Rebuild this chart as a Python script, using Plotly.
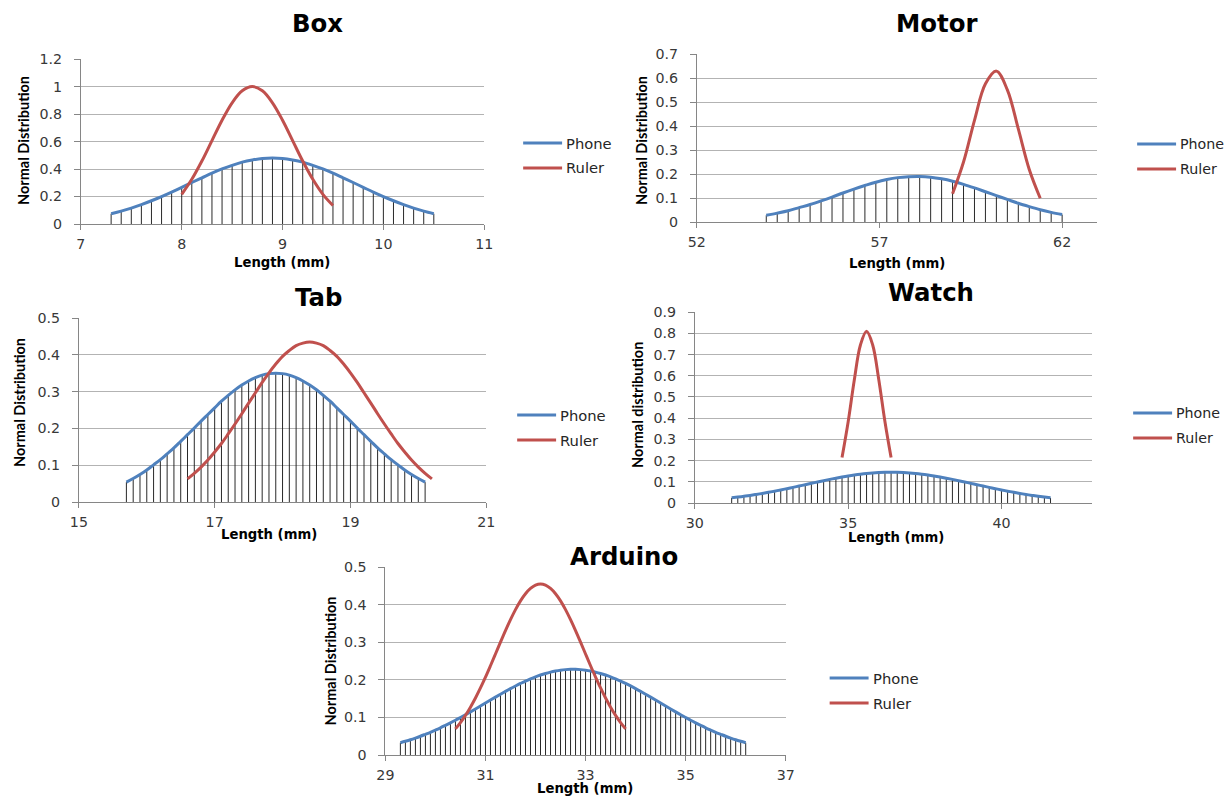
import plotly.graph_objects as go

# ---------------- data ----------------
BOX_PHONE_X = [7.3, 7.4, 7.5, 7.6, 7.7, 7.8, 7.9, 8.0, 8.1, 8.2, 8.3, 8.4, 8.5, 8.6, 8.7, 8.8, 8.9,
               9.0, 9.1, 9.2, 9.3, 9.4, 9.5, 9.6, 9.7, 9.8, 9.9, 10.0, 10.1, 10.2, 10.3, 10.4, 10.5]
BOX_PHONE_Y = [0.075, 0.094, 0.116, 0.141, 0.169, 0.199, 0.232, 0.267, 0.302, 0.336, 0.370, 0.401,
               0.427, 0.450, 0.466, 0.477, 0.480, 0.477, 0.466, 0.450, 0.427, 0.401, 0.370, 0.336,
               0.302, 0.267, 0.232, 0.199, 0.169, 0.141, 0.116, 0.094, 0.075]
BOX_RULER_X = [8.0, 8.1, 8.2, 8.3, 8.4, 8.5, 8.6, 8.7, 8.8, 8.9, 9.0, 9.1, 9.2, 9.3, 9.4, 9.5]
BOX_RULER_Y = [0.216, 0.325, 0.458, 0.607, 0.755, 0.882, 0.969, 1.0, 0.969, 0.882, 0.755, 0.607,
               0.458, 0.325, 0.216, 0.135]

MOTOR_PHONE_X = [53.9, 54.2, 54.5, 54.8, 55.1, 55.4, 55.7, 56.0, 56.3, 56.6, 56.9, 57.2, 57.5, 57.8,
                 58.1, 58.4, 58.7, 59.0, 59.3, 59.6, 59.9, 60.2, 60.5, 60.8, 61.1, 61.4, 61.7, 62.0]
MOTOR_PHONE_Y = [0.028, 0.037, 0.047, 0.060, 0.073, 0.088, 0.104, 0.121, 0.137, 0.152, 0.166, 0.177,
                 0.185, 0.189, 0.190, 0.187, 0.180, 0.170, 0.157, 0.142, 0.126, 0.110, 0.094, 0.078,
                 0.064, 0.051, 0.040, 0.031]
MOTOR_RULER_X = [59.0, 59.3, 59.6, 59.9, 60.2, 60.5, 60.8, 61.1, 61.4]
MOTOR_RULER_Y = [0.118, 0.250, 0.424, 0.576, 0.629, 0.551, 0.388, 0.219, 0.099]

TAB_PHONE_X = [15.7, 15.8, 15.9, 16.0, 16.1, 16.2, 16.3, 16.4, 16.5, 16.6, 16.7, 16.8, 16.9, 17.0,
               17.1, 17.2, 17.3, 17.4, 17.5, 17.6, 17.7, 17.8, 17.9, 18.0, 18.1, 18.2, 18.3, 18.4,
               18.5, 18.6, 18.7, 18.8, 18.9, 19.0, 19.1, 19.2, 19.3, 19.4, 19.5, 19.6, 19.7, 19.8,
               19.9, 20.0, 20.1]
TAB_PHONE_Y = [0.054, 0.064, 0.075, 0.087, 0.101, 0.115, 0.131, 0.147, 0.165, 0.183, 0.201, 0.220,
               0.238, 0.256, 0.274, 0.290, 0.305, 0.318, 0.329, 0.338, 0.345, 0.349, 0.350, 0.349,
               0.345, 0.338, 0.329, 0.318, 0.305, 0.290, 0.274, 0.256, 0.238, 0.220, 0.201, 0.183,
               0.165, 0.147, 0.131, 0.115, 0.101, 0.087, 0.075, 0.064, 0.054]
TAB_RULER_X = [16.6, 16.7, 16.8, 16.9, 17.0, 17.1, 17.2, 17.3, 17.4, 17.5, 17.6, 17.7, 17.8, 17.9,
               18.0, 18.1, 18.2, 18.3, 18.4, 18.5, 18.6, 18.7, 18.8, 18.9, 19.0, 19.1, 19.2, 19.3,
               19.4, 19.5, 19.6, 19.7, 19.8, 19.9, 20.0, 20.1, 20.2]
TAB_RULER_Y = [0.063, 0.078, 0.095, 0.114, 0.136, 0.159, 0.185, 0.212, 0.240, 0.269, 0.297, 0.325,
               0.351, 0.375, 0.396, 0.412, 0.425, 0.432, 0.435, 0.432, 0.425, 0.412, 0.396, 0.375,
               0.351, 0.325, 0.297, 0.269, 0.240, 0.212, 0.185, 0.159, 0.136, 0.114, 0.095, 0.078,
               0.063]

WATCH_PHONE_X = [31.2, 31.4, 31.6, 31.8, 32.0, 32.2, 32.4, 32.6, 32.8, 33.0, 33.2, 33.4, 33.6, 33.8,
                 34.0, 34.2, 34.4, 34.6, 34.8, 35.0, 35.2, 35.4, 35.6, 35.8, 36.0, 36.2, 36.4, 36.6,
                 36.8, 37.0, 37.2, 37.4, 37.6, 37.8, 38.0, 38.2, 38.4, 38.6, 38.8, 39.0, 39.2, 39.4,
                 39.6, 39.8, 40.0, 40.2, 40.4, 40.6, 40.8, 41.0, 41.2, 41.4, 41.6]
WATCH_PHONE_Y = [0.0243, 0.0278, 0.0316, 0.0358, 0.0403, 0.0452, 0.0503, 0.0558, 0.0616, 0.0675,
                 0.0737, 0.0800, 0.0864, 0.0927, 0.0991, 0.1053, 0.1113, 0.1170, 0.1224, 0.1274,
                 0.1318, 0.1357, 0.1390, 0.1416, 0.1435, 0.1446, 0.1450, 0.1446, 0.1435, 0.1416,
                 0.1390, 0.1357, 0.1318, 0.1274, 0.1224, 0.1170, 0.1113, 0.1053, 0.0991, 0.0927,
                 0.0864, 0.0800, 0.0737, 0.0675, 0.0616, 0.0558, 0.0503, 0.0452, 0.0403, 0.0358,
                 0.0316, 0.0278, 0.0243]
WATCH_RULER_X = [34.8, 35.0, 35.2, 35.4, 35.6, 35.8, 36.0, 36.2, 36.4]
WATCH_RULER_Y = [0.214, 0.383, 0.580, 0.745, 0.810, 0.745, 0.580, 0.383, 0.214]

ARDUINO_PHONE_X = [29.3, 29.4, 29.5, 29.6, 29.7, 29.8, 29.9, 30.0, 30.1, 30.2, 30.3, 30.4, 30.5, 30.6,
                   30.7, 30.8, 30.9, 31.0, 31.1, 31.2, 31.3, 31.4, 31.5, 31.6, 31.7, 31.8, 31.9, 32.0,
                   32.1, 32.2, 32.3, 32.4, 32.5, 32.6, 32.7, 32.8, 32.9, 33.0, 33.1, 33.2, 33.3, 33.4,
                   33.5, 33.6, 33.7, 33.8, 33.9, 34.0, 34.1, 34.2, 34.3, 34.4, 34.5, 34.6, 34.7, 34.8,
                   34.9, 35.0, 35.1, 35.2, 35.3, 35.4, 35.5, 35.6, 35.7, 35.8, 35.9, 36.0, 36.1, 36.2]
ARDUINO_PHONE_Y = [0.0327, 0.0365, 0.0406, 0.0451, 0.0499, 0.0551, 0.0605, 0.0663, 0.0724, 0.0789,
                   0.0856, 0.0925, 0.0998, 0.1072, 0.1148, 0.1225, 0.1304, 0.1383, 0.1462, 0.1540,
                   0.1617, 0.1693, 0.1767, 0.1837, 0.1904, 0.1968, 0.2026, 0.2080, 0.2128, 0.2170,
                   0.2206, 0.2235, 0.2257, 0.2272, 0.2279, 0.2279, 0.2272, 0.2257, 0.2235, 0.2206,
                   0.2170, 0.2128, 0.2080, 0.2026, 0.1968, 0.1904, 0.1837, 0.1767, 0.1693, 0.1617,
                   0.1540, 0.1462, 0.1383, 0.1304, 0.1225, 0.1148, 0.1072, 0.0998, 0.0925, 0.0856,
                   0.0789, 0.0724, 0.0663, 0.0605, 0.0551, 0.0499, 0.0451, 0.0406, 0.0365, 0.0327]
ARDUINO_RULER_X = [30.4, 30.5, 30.6, 30.7, 30.8, 30.9, 31.0, 31.1, 31.2, 31.3, 31.4, 31.5, 31.6, 31.7,
                   31.8, 31.9, 32.0, 32.1, 32.2, 32.3, 32.4, 32.5, 32.6, 32.7, 32.8, 32.9, 33.0, 33.1,
                   33.2, 33.3, 33.4, 33.5, 33.6, 33.7, 33.8]
ARDUINO_RULER_Y = [0.0695, 0.0862, 0.1054, 0.1273, 0.1517, 0.1784, 0.2072, 0.2375, 0.2687, 0.3002,
                   0.3309, 0.3600, 0.3868, 0.4101, 0.4291, 0.4433, 0.4521, 0.4550, 0.4521, 0.4433,
                   0.4291, 0.4101, 0.3868, 0.3600, 0.3309, 0.3002, 0.2687, 0.2375, 0.2072, 0.1784,
                   0.1517, 0.1273, 0.1054, 0.0862, 0.0695]

TITLES = ["Box", "Motor", "Tab", "Watch", "Arduino"]
Y_TITLES = ["Normal Distribution", "Normal Distribution", "Normal Distribution",
            "Normal distribution", "Normal Distribution"]
X_TITLE = "Length (mm)"
SERIES_NAMES = ["Phone", "Ruler"]

BOX_XTICKS = [7, 8, 9, 10, 11]
MOTOR_XTICKS = [52, 57, 62]
TAB_XTICKS = [15, 17, 19, 21]
WATCH_XTICKS = [30, 35, 40]
ARDUINO_XTICKS = [29, 31, 33, 35, 37]

BOX_YTICKS = [0, 0.2, 0.4, 0.6, 0.8, 1, 1.2]
MOTOR_YTICKS = [0, 0.1, 0.2, 0.3, 0.4, 0.5, 0.6, 0.7]
TAB_YTICKS = [0, 0.1, 0.2, 0.3, 0.4, 0.5]
WATCH_YTICKS = [0, 0.1, 0.2, 0.3, 0.4, 0.5, 0.6, 0.7, 0.8, 0.9]
ARDUINO_YTICKS = [0, 0.1, 0.2, 0.3, 0.4, 0.5]

DATA = [
    (BOX_PHONE_X, BOX_PHONE_Y, BOX_RULER_X, BOX_RULER_Y, BOX_XTICKS, BOX_YTICKS),
    (MOTOR_PHONE_X, MOTOR_PHONE_Y, MOTOR_RULER_X, MOTOR_RULER_Y, MOTOR_XTICKS, MOTOR_YTICKS),
    (TAB_PHONE_X, TAB_PHONE_Y, TAB_RULER_X, TAB_RULER_Y, TAB_XTICKS, TAB_YTICKS),
    (WATCH_PHONE_X, WATCH_PHONE_Y, WATCH_RULER_X, WATCH_RULER_Y, WATCH_XTICKS, WATCH_YTICKS),
    (ARDUINO_PHONE_X, ARDUINO_PHONE_Y, ARDUINO_RULER_X, ARDUINO_RULER_Y, ARDUINO_XTICKS, ARDUINO_YTICKS),
]

# ---------------- geometry ----------------
# The photographed picture shows the page inset by about 8px and slightly shrunk,
# so positions are given in picture pixels and mapped back to the page here.
W, H = 1232, 803
INSET = 8
IW, IH = W - 2 * INSET, H - 2 * INSET
FS = 1.017  # font compensation for the shrink


def px(x):
    return (x - INSET) / IW


def py(y):
    return 1 - (y - INSET) / IH


GEOM = [
    dict(l=80, r=484, b=224, t=59, xmax=11, title=(317, 23), leg=(523, 143), legfs=14.5, yt=(22, 140), xt=(281, 262)),
    dict(l=697, r=1098, b=222, t=54, xmax=62.96, title=(937, 24), leg=(1138, 144), legfs=14, yt=(641, 140), xt=(897, 263)),
    dict(l=78, r=486, b=502, t=318, xmax=21, title=(318, 297), leg=(517, 415), legfs=14.5, yt=(18, 402), xt=(268, 534)),
    dict(l=695, r=1093, b=503, t=312, xmax=42.96, title=(932, 292), leg=(1134, 413), legfs=14, yt=(637, 405), xt=(896, 537)),
    dict(l=385, r=786, b=755, t=567, xmax=37, title=(624, 556), leg=(830, 678), legfs=14.5, yt=(330, 661), xt=(585, 788)),
]

TICK_FONT = dict(family="DejaVu Sans", size=14 * FS, color="#383838")
BLUE = "#4f81bd"
RED = "#c0504d"
GRID = "#b3b3b3"
AXIS = "#868686"

fig = go.Figure()
layout = dict(
    width=W, height=H, autosize=False,
    margin=dict(l=0, r=0, t=0, b=0),
    paper_bgcolor="white", plot_bgcolor="white",
    font=dict(family="DejaVu Sans", color="#000000"),
    showlegend=False,
    annotations=[], shapes=[],
)

for i, ((pxs, pys, rxs, rys, xticks, yticks), g) in enumerate(zip(DATA, GEOM)):
    n = i + 1
    xa = "x" if n == 1 else f"x{n}"
    ya = "y" if n == 1 else f"y{n}"
    xkey = "xaxis" if n == 1 else f"xaxis{n}"
    ykey = "yaxis" if n == 1 else f"yaxis{n}"

    # Excel-style drop lines from every phone point to the axis
    dx, dy = [], []
    for x, y in zip(pxs, pys):
        dx += [x, x, None]
        dy += [0, y, None]
    fig.add_trace(go.Scatter(x=dx, y=dy, xaxis=xa, yaxis=ya, mode="lines",
                             line=dict(color="#111111", width=0.9),
                             showlegend=False, hoverinfo="skip"))
    fig.add_trace(go.Scatter(x=pxs, y=pys, xaxis=xa, yaxis=ya, mode="lines",
                             name=SERIES_NAMES[0],
                             line=dict(color=BLUE, width=3, shape="spline")))
    fig.add_trace(go.Scatter(x=rxs, y=rys, xaxis=xa, yaxis=ya, mode="lines",
                             name=SERIES_NAMES[1],
                             line=dict(color=RED, width=3, shape="spline")))

    layout[xkey] = dict(
        domain=[px(g["l"]), px(g["r"])], anchor=ya,
        range=[xticks[0], g["xmax"]], tickmode="array", tickvals=xticks,
        ticks="outside", ticklen=5, tickcolor=AXIS, ticklabelstandoff=2,
        showline=True, linecolor=AXIS, linewidth=1,
        showgrid=False, zeroline=False, tickfont=TICK_FONT, fixedrange=True,
    )
    layout[ykey] = dict(
        domain=[py(g["b"]), py(g["t"])], anchor=xa,
        range=[0, yticks[-1] * 1.0005], tickmode="array", tickvals=yticks,
        ticks="outside", ticklen=6, tickcolor=AXIS, ticklabelstandoff=9,
        showline=True, linecolor=AXIS, linewidth=1,
        showgrid=True, gridcolor=GRID, gridwidth=1.2, zeroline=False,
        tickfont=TICK_FONT, fixedrange=True,
    )

    # legend: coloured line sample + label
    lx, ly = g["leg"]
    for k, (name, col) in enumerate(zip(SERIES_NAMES, [BLUE, RED])):
        yy = ly + 25 * k
        layout["shapes"].append(dict(type="line", xref="paper", yref="paper",
                                     x0=px(lx), x1=px(lx + 39), y0=py(yy), y1=py(yy),
                                     line=dict(color=col, width=3)))
        layout["annotations"].append(dict(text=name, x=px(lx + 41), y=py(yy), xref="paper", yref="paper",
                                          showarrow=False, xanchor="left", yanchor="middle",
                                          font=dict(family="DejaVu Sans", size=g["legfs"] * FS,
                                                    color="#262626")))

    layout["annotations"] += [
        dict(text=f"<b>{TITLES[i]}</b>", x=px(g["title"][0]), y=py(g["title"][1]),
             xref="paper", yref="paper", showarrow=False, xanchor="center", yanchor="middle",
             font=dict(family="DejaVu Sans", size=24 * FS, color="#000000")),
        dict(text=f"<b>{Y_TITLES[i]}</b>", x=px(g["yt"][0]), y=py(g["yt"][1]),
             xref="paper", yref="paper", showarrow=False, xanchor="center", yanchor="middle",
             textangle=-90, font=dict(family="Lato", size=14.5, color="#000000")),
        dict(text=f"<b>{X_TITLE}</b>", x=px(g["xt"][0]), y=py(g["xt"][1]),
             xref="paper", yref="paper", showarrow=False, xanchor="center", yanchor="middle",
             font=dict(family="DejaVu Sans", size=13 * FS, color="#000000")),
    ]

fig.update_layout(**layout)
fig.write_html(
    "out.html",
    config={"displayModeBar": False},
    post_script=("document.documentElement.style.margin='0';document.body.style.margin='0';"
                 "document.documentElement.style.overflow='hidden';document.body.style.overflow='hidden';"),
)
